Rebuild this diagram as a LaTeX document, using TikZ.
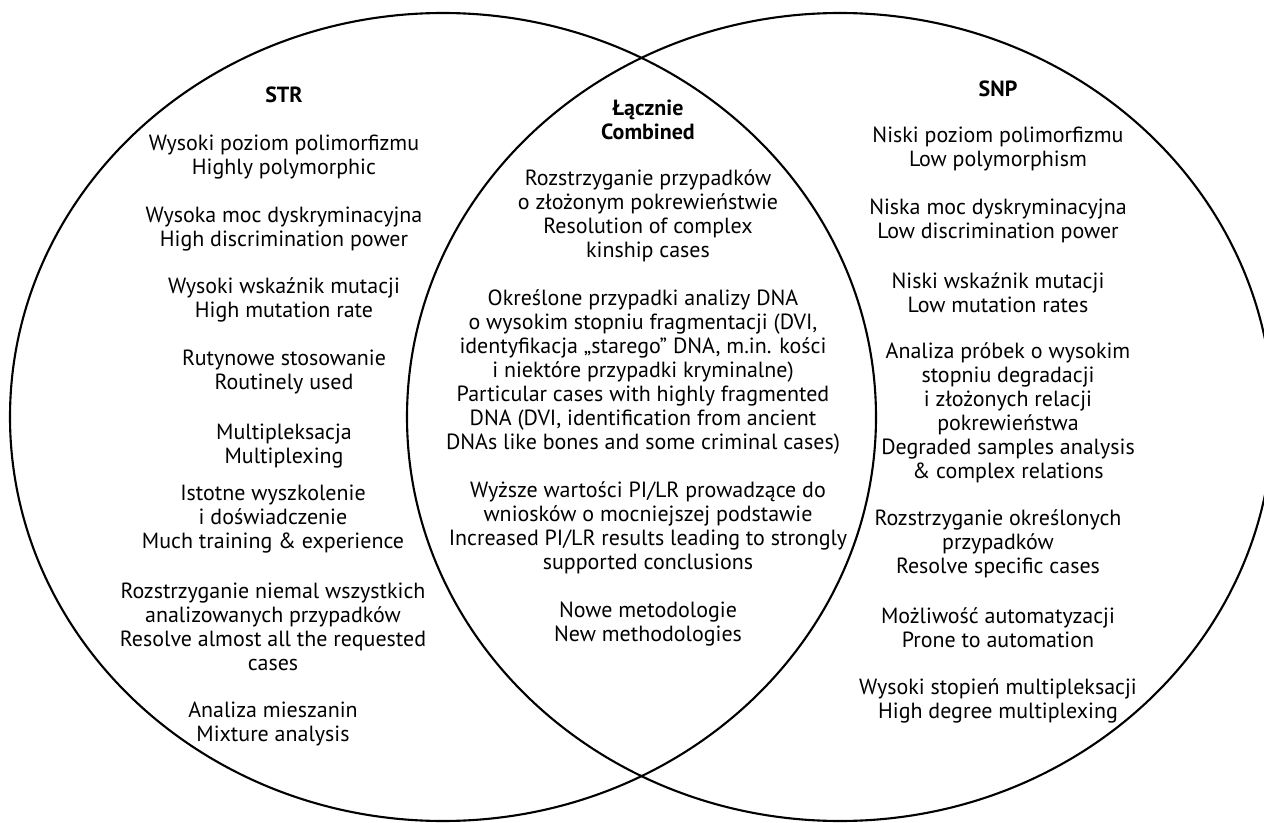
\documentclass[tikz,border=0pt]{standalone}
\usepackage{fontspec}
\setmainfont{PT Sans}
\begin{document}
\begin{tikzpicture}[txt/.style={align=center, inner sep=0pt, font=\fontsize{6.25pt}{6.8pt}\selectfont},
    head/.style={txt, font=\fontsize{6.25pt}{6.8pt}\selectfont\bfseries},
    ring/.style={line width=0.6pt}]
\useasboundingbox (0,0) rectangle (12.64,8.22);
\begin{scope}
\clip (0,0) rectangle (12.64,8.22);
\draw[ring] (4.43,4.05) ellipse [x radius=4.33, y radius=4.04];
\draw[ring] (8.40,4.05) ellipse [x radius=4.33, y radius=4.04];
\end{scope}

\node[head] (str) at (2.84,7.27) {STR};
\node[txt] (strA) at (2.84,6.65) {Wysoki poziom polimorfizmu\\Highly polymorphic};
\node[txt] (strB) at (2.84,5.93) {Wysoka moc dyskryminacyjna\\High discrimination power};
\node[txt] (strC) at (2.84,5.22) {Wysoki wskaźnik mutacji\\High mutation rate};
\node[txt] (strD) at (2.84,4.50) {Rutynowe stosowanie\\Routinely used};
\node[txt] (strE) at (2.84,3.76) {Multipleksacja\\Multiplexing};
\node[txt] (strF) at (2.73,3.03) {Istotne wyszkolenie\\i doświadczenie\\Much training \& experience};
\node[txt] (strG) at (2.73,1.95) {Rozstrzyganie niemal wszystkich\\analizowanych przypadków\\Resolve almost all the requested\\cases};
\node[txt] (strH) at (2.73,0.98) {Analiza mieszanin\\Mixture analysis};

\node[head] (both) at (6.48,7.02) {Łącznie\\Combined};
\node[txt] (bothA) at (6.48,6.06) {Rozstrzyganie przypadków\\o złożonym pokrewieństwie\\Resolution of complex\\kinship cases};
\node[txt] (bothB) at (6.43,4.50) {Określone przypadki analizy DNA\\o wysokim stopniu fragmentacji (DVI,\\identyfikacja „starego” DNA, m.in. kości\\i niektóre przypadki kryminalne)\\Particular cases with highly fragmented\\DNA (DVI, identification from ancient\\DNAs like bones and some criminal cases)};
\node[txt] (bothC) at (6.48,2.94) {Wyższe wartości PI/LR prowadzące do\\wniosków o mocniejszej podstawie\\Increased PI/LR results leading to strongly\\supported conclusions};
\node[txt] (bothD) at (6.48,1.98) {Nowe metodologie\\New methodologies};

\node[head] (snp) at (9.98,7.33) {SNP};
\node[txt] (snpA) at (9.98,6.73) {Niski poziom polimorfizmu\\Low polymorphism};
\node[txt] (snpB) at (9.98,6.01) {Niska moc dyskryminacyjna\\Low discrimination power};
\node[txt] (snpC) at (9.98,5.29) {Niski wskaźnik mutacji\\Low mutation rates};
\node[txt] (snpD) at (10.08,4.09) {Analiza próbek o wysokim\\stopniu degradacji\\i złożonych relacji\\pokrewieństwa\\Degraded samples analysis\\\& complex relations};
\node[txt] (snpE) at (9.98,2.78) {Rozstrzyganie określonych\\przypadków\\Resolve specific cases};
\node[txt] (snpF) at (9.98,1.94) {Możliwość automatyzacji\\Prone to automation};
\node[txt] (snpG) at (9.98,1.21) {Wysoki stopień multipleksacji\\High degree multiplexing};
\end{tikzpicture}
\end{document}
